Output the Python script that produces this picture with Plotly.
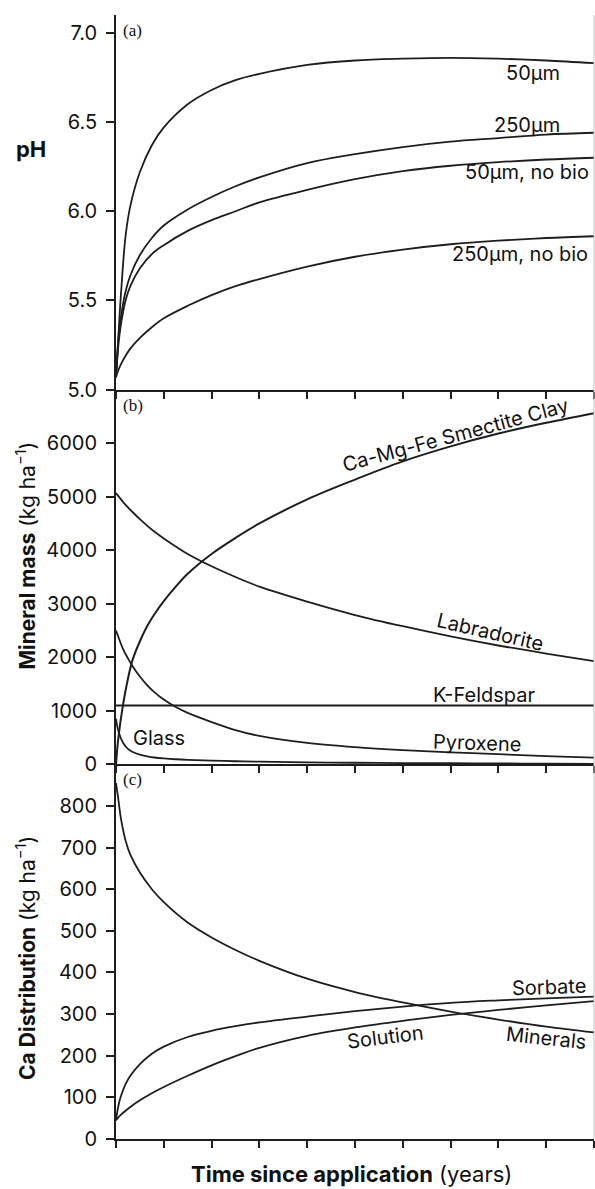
import plotly.graph_objects as go

# ---------------- data ----------------
# panel (a) pH
t_a = [0, 0.05, 0.1, 0.2, 0.3, 0.5, 0.75, 1, 1.5, 2, 2.5, 3, 4, 5, 6, 7, 8, 9, 10]
ph_50 = [5.07, 5.30, 5.52, 5.86, 6.03, 6.22, 6.37, 6.47, 6.60, 6.68, 6.735, 6.77, 6.82, 6.845, 6.855, 6.86, 6.855, 6.845, 6.83]
ph_250 = [5.07, 5.28, 5.40, 5.55, 5.64, 5.755, 5.85, 5.92, 6.01, 6.08, 6.14, 6.19, 6.27, 6.32, 6.36, 6.39, 6.41, 6.43, 6.44]
ph_50_nobio = [5.07, 5.25, 5.36, 5.50, 5.58, 5.68, 5.76, 5.81, 5.89, 5.95, 6.00, 6.05, 6.12, 6.18, 6.225, 6.255, 6.275, 6.29, 6.30]
ph_250_nobio = [5.07, 5.11, 5.14, 5.19, 5.23, 5.29, 5.35, 5.40, 5.47, 5.53, 5.58, 5.62, 5.69, 5.745, 5.785, 5.815, 5.835, 5.85, 5.86]

# panel (b) mineral mass (kg/ha)
t_b = [0, 0.05, 0.15, 0.25, 0.35, 0.5, 0.65, 0.8, 1, 1.25, 1.5, 2, 2.5, 3, 4, 5, 6, 7, 8, 9, 10]
smectite = [0, 500, 1130, 1600, 1960, 2300, 2580, 2800, 3050, 3320, 3560, 3930, 4230, 4500, 4950, 5320, 5660, 5940, 6180, 6380, 6560]
labradorite = [5070, 5010, 4900, 4800, 4710, 4580, 4460, 4350, 4220, 4070, 3930, 3700, 3500, 3320, 3040, 2790, 2580, 2390, 2220, 2070, 1930]
kfeldspar = [1100] * len(t_b)
pyroxene = [2500, 2380, 2150, 1980, 1830, 1640, 1480, 1350, 1210, 1070, 960, 790, 640, 530, 400, 320, 265, 225, 190, 155, 125]
glass = [850, 620, 400, 290, 230, 180, 150, 128, 110, 95, 85, 70, 58, 50, 38, 30, 24, 20, 16, 13, 10]

# panel (c) Ca distribution (kg/ha)
t_c = [0, 0.05, 0.1, 0.2, 0.3, 0.5, 0.75, 1, 1.5, 2, 2.5, 3, 4, 5, 6, 7, 8, 9, 10]
minerals = [855, 815, 772, 717, 683, 640, 600, 569, 520, 484, 454, 428, 385, 353, 328, 306, 287, 270, 256]
sorbate = [45, 80, 102, 132, 152, 180, 205, 222, 245, 260, 271, 280, 294, 307, 318, 327, 333, 338, 342]
solution = [45, 52, 58, 68, 77, 93, 110, 125, 152, 177, 199, 219, 248, 268, 284, 298, 310, 321, 331]

x_ticks = list(range(0, 11))
ph_ticks = [5.0, 5.5, 6.0, 6.5, 7.0]
mass_ticks = [0, 1000, 2000, 3000, 4000, 5000, 6000]
ca_ticks = [0, 100, 200, 300, 400, 500, 600, 700, 800]

# ---------------- figure ----------------
SANS = "Inter, Roboto, sans-serif"

fig = go.Figure()

def add(x, y, xa, ya, width=1.8):
    fig.add_trace(go.Scatter(x=x, y=y, mode="lines",
                             line=dict(shape="spline", smoothing=1.0, color="#1e1e1e", width=width),
                             xaxis=xa, yaxis=ya, showlegend=False, hoverinfo="skip"))

for s in (ph_50, ph_250, ph_50_nobio, ph_250_nobio):
    add(t_a, s, "x", "y")
add(t_b, smectite, "x2", "y2", 2.0)
add(t_b, labradorite, "x2", "y2")
add(t_b, kfeldspar, "x2", "y2", 2.0)
add(t_b, pyroxene, "x2", "y2")
add(t_b, glass, "x2", "y2")
for s in (minerals, sorbate, solution):
    add(t_c, s, "x3", "y3")

xcommon = dict(range=[0, 10], tickvals=x_ticks, showticklabels=False, ticks="outside", ticklen=7,
               tickwidth=1.5, tickcolor="#1e1e1e", showline=True, linecolor="#1e1e1e", linewidth=2,
               showgrid=False, zeroline=False)
ycommon = dict(ticks="outside", ticklen=8, tickwidth=1.5, tickcolor="#1e1e1e", showline=True,
               linecolor="#1e1e1e", linewidth=1.8, showgrid=False, zeroline=False,
               ticklabelstandoff=5,
               tickfont=dict(family=SANS, size=20, color="#111"))

fig.update_layout(
    width=595, height=1189,
    margin=dict(l=116, r=1, t=15, b=50),
    paper_bgcolor="white", plot_bgcolor="white",
    xaxis=dict(domain=[0, 1], anchor="y", **xcommon),
    xaxis2=dict(domain=[0, 1], anchor="y2", matches="x", **xcommon),
    xaxis3=dict(domain=[0, 1], anchor="y3", matches="x", **xcommon),
    yaxis=dict(domain=[2/3, 1], anchor="x", range=[5.0, 7.1], tickvals=ph_ticks, tickformat=".1f", **ycommon),
    yaxis2=dict(domain=[1/3, 2/3], anchor="x2", range=[0, 7000], tickvals=mass_ticks, **ycommon),
    yaxis3=dict(domain=[0, 1/3], anchor="x3", range=[0, 900], tickvals=ca_ticks, **ycommon),
    shapes=[dict(type="line", xref="paper", yref="paper", x0=1, x1=1, y0=0, y1=1,
                 line=dict(color="#c4c4c4", width=1))],
)

ann = []
def lab(text, x, y, xr, yr, angle=0, size=20):
    ann.append(dict(text=text, x=x, y=y, xref=xr, yref=yr, showarrow=False, textangle=angle,
                    font=dict(family=SANS, size=size, color="#111"), xanchor="center", yanchor="middle"))

# panel labels
for txt, yr, top in (("(a)", "y", 7.1), ("(b)", "y2", 7000), ("(c)", "y3", 900)):
    ann.append(dict(text=txt, x=0.011, y=top, xref="paper", yref=yr, showarrow=False,
                    xanchor="left", yanchor="top", yshift=-4,
                    font=dict(family="Liberation Serif, Times New Roman, serif", size=17, color="#111")))

# curve labels (a)
lab("50μm", 8.73, 6.775, "x", "y")
lab("250μm", 8.6, 6.485, "x", "y")
lab("50μm, no bio", 8.6, 6.22, "x", "y")
lab("250μm, no bio", 8.45, 5.76, "x", "y")
# (b)
lab("Ca-Mg-Fe Smectite Clay", 7.1, 6150, "x2", "y2", angle=-15)
lab("Labradorite", 7.83, 2473, "x2", "y2", angle=13)
lab("K-Feldspar", 7.69, 1290, "x2", "y2")
lab("Pyroxene", 7.56, 390, "x2", "y2", angle=2)
lab("Glass", 0.9, 500, "x2", "y2")
# (c)
lab("Sorbate", 9.05, 366, "x3", "y3", angle=-2)
lab("Minerals", 9.0, 243, "x3", "y3", angle=6)
lab("Solution", 5.64, 244, "x3", "y3", angle=-7)

# axis titles
TF = dict(family=SANS, size=21, color="#111")
ann.append(dict(text="<b>pH</b>", x=0, y=6.35, xref="paper", yref="y", xanchor="center", yanchor="middle",
                xshift=-85, showarrow=False, font=dict(family=SANS, size=22, color="#111")))
ann.append(dict(text="<b>Mineral mass</b> (kg ha<sup>−1</sup>)", x=0, y=3900, xref="paper", yref="y2",
                xanchor="center", yanchor="middle", xshift=-90, textangle=-90, showarrow=False, font=TF))
ann.append(dict(text="<b>Ca Distribution</b> (kg ha<sup>−1</sup>)", x=0, y=435, xref="paper", yref="y3",
                xanchor="center", yanchor="middle", xshift=-90, textangle=-90, showarrow=False, font=TF))
ann.append(dict(text="<b>Time since application</b> (years)", x=0.493, y=0, xref="paper", yref="paper",
                xanchor="center", yshift=-20, yanchor="top", showarrow=False,
                font=dict(family=SANS, size=22, color="#111")))

fig.update_layout(annotations=ann)
fig.write_html("out.html")
